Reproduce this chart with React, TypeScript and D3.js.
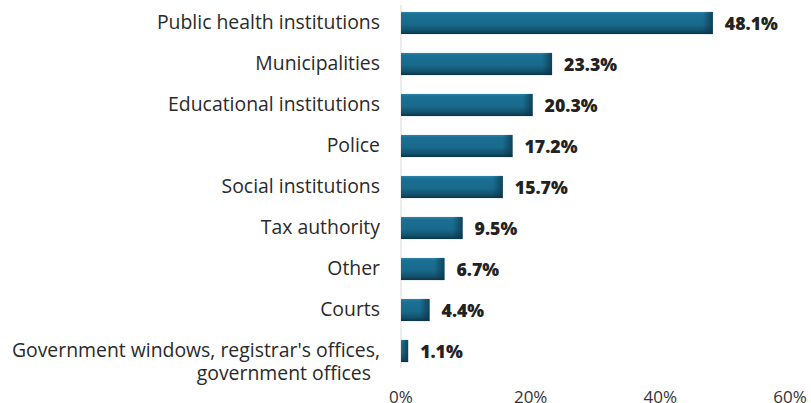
import React from "react";
import * as d3 from "d3";

const categories = [
  "Public health institutions",
  "Municipalities",
  "Educational institutions",
  "Police",
  "Social institutions",
  "Tax authority",
  "Other",
  "Courts",
  "Government windows, registrar's offices,|government offices",
];
const values = [48.1, 23.3, 20.3, 17.2, 15.7, 9.5, 6.7, 4.4, 1.1];
const ticks = [0, 20, 40, 60];

const W = 811;
const H = 403;
const FONT = "Open Sans, sans-serif";

export default function App() {
  const x = d3.scaleLinear().domain([0, 60]).range([401, 790]);
  const y = d3
    .scaleBand<number>()
    .domain(d3.range(categories.length))
    .range([2.5, 371.5])
    .paddingInner(0.46)
    .paddingOuter(0.23);
  const bh = y.bandwidth();

  return (
    <div style={{ position: "fixed", left: 0, top: 0, width: W, height: H, background: "#fff" }}>
      <svg width={W} height={H} style={{ display: "block" }}>
        <defs>
          <linearGradient id="vg" x1="0" y1="0" x2="0" y2="1">
            <stop offset="0" stopColor="#2a85a8" />
            <stop offset="0.12" stopColor="#1b6f93" />
            <stop offset="0.55" stopColor="#196a8c" />
            <stop offset="0.85" stopColor="#124f6b" />
            <stop offset="1" stopColor="#0b3447" />
          </linearGradient>
          <linearGradient id="hg" x1="0" y1="0" x2="1" y2="0">
            <stop offset="0" stopColor="#0b3447" stopOpacity={0} />
            <stop offset="1" stopColor="#0b3447" stopOpacity={0.75} />
          </linearGradient>
        </defs>
        <line x1={x(0)} x2={x(0)} y1={5} y2={368} stroke="#d9d9d9" strokeWidth={1} />
        {values.map((v, i) => {
          const y0 = y(i)!;
          const x1 = x(v);
          const w = x1 - x(0);
          const fade = Math.min(10, w);
          return (
            <g key={i}>
              <rect x={x(0)} y={y0} width={w} height={bh} fill="url(#vg)" />
              <rect x={x1 - fade} y={y0} width={fade} height={bh} fill="url(#hg)" />
              <text
                x={x1 + 12}
                y={y0 + bh / 2 + 1}
                dy="0.36em"
                fontFamily={FONT}
                fontWeight={800}
                fontSize={17.7}
                fill="#222"
              >
                {v.toFixed(1)}%
              </text>
            </g>
          );
        })}
        {categories.map((c, i) => {
          const lines = c.split("|");
          const cy = y(i)! + bh / 2;
          return (
            <text
              key={i}
              x={380}
              y={cy}
              textAnchor="end"
              fontFamily={FONT}
              fontSize={19.4}
              fill="#2a2a2a"
            >
              {lines.map((l, j) => (
                <tspan key={j} x={j === 0 ? 380 : 371} dy={j === 0 ? "0.3em" : "1.2em"}>
                  {l}
                </tspan>
              ))}
            </text>
          );
        })}
        {ticks.map((t) => (
          <text
            key={t}
            x={x(t)}
            y={403}
            textAnchor="middle"
            fontFamily={FONT}
            fontSize={17}
            fill="#333"
          >
            {t}%
          </text>
        ))}
      </svg>
    </div>
  );
}
